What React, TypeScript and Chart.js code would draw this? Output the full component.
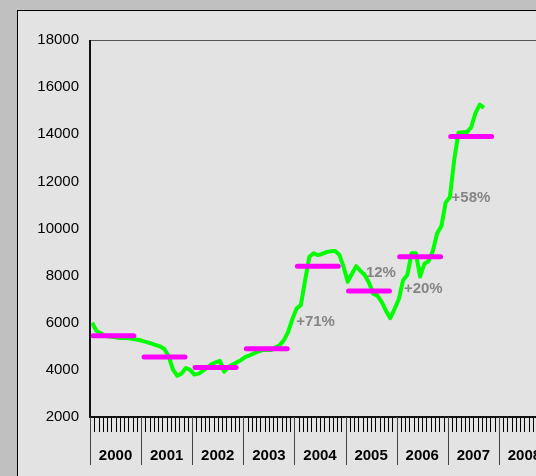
import React, { useEffect, useRef } from "react";
import { Chart, registerables } from "chart.js";

Chart.register(...registerables);

const years = ["2000", "2001", "2002", "2003", "2004", "2005", "2006", "2007", "2008"];
const monthlyPrice = [
  6000, 5660, 5550, 5450, 5420, 5400, 5360, 5350, 5350, 5330, 5300, 5270,
  5220, 5170, 5110, 5050, 4990, 4880, 4550, 4000, 3750, 3850, 4080, 4000,
  3800, 3840, 3960, 4100, 4240, 4320, 4380, 3920, 4120, 4230, 4320, 4420,
  4550, 4620, 4700, 4780, 4840, 4840, 4840, 4950, 5050, 5250, 5600, 6150,
  6600, 6750, 7800, 8800, 8950, 8870, 8920, 9000, 9030, 9050, 8900, 8400,
  7740, 8080, 8400, 8200, 8030, 7700, 7230, 7140, 6880, 6500, 6190, 6580,
  7000, 7800, 8030, 8950, 8950, 7960, 8500, 8620, 9050, 9800, 10100, 11100,
  11340, 12900, 14060, 14090, 14090, 14300, 14900, 15260, 15120,
];
const yearlyAverage = [5450, 4550, 4100, 4900, 8400, 7350, 8800, 13900];
const changeLabels = ["+71%", "-12%", "+20%", "+58%"];
const changeLabelMonth = [48.4, 63.6, 73.7, 84.9];
const changeLabelValue = [6030, 8115, 7455, 11306];
const yMin = 2000;
const yMax = 18000;
const yStep = 2000;

const FONT = "'Liberation Sans', Arial, sans-serif";

export default function App() {
  const ref = useRef<HTMLCanvasElement | null>(null);

  useEffect(() => {
    const canvas = ref.current;
    if (!canvas) return;

    const lineData = monthlyPrice.map((v, i) => ({ x: i + 0.5, y: v }));
    const avgData: { x: number; y: number | null }[] = [];
    yearlyAverage.forEach((v, i) => {
      avgData.push({ x: i * 12 + 0.7, y: v });
      avgData.push({ x: i * 12 + 10.3, y: v });
      avgData.push({ x: i * 12 + 11, y: null });
    });

    const annotations = {
      id: "annotations",
      beforeDatasetsDraw(chart: any) {
        const { ctx, scales } = chart;
        ctx.save();
        ctx.font = `bold 15px ${FONT}`;
        ctx.fillStyle = "#858585";
        ctx.textAlign = "left";
        ctx.textBaseline = "middle";
        changeLabels.forEach((t, i) => {
          ctx.fillText(
            t,
            scales.x.getPixelForValue(changeLabelMonth[i]),
            scales.y.getPixelForValue(changeLabelValue[i])
          );
        });
        ctx.restore();
      },
      afterDraw(chart: any) {
        const { ctx, chartArea, scales } = chart;
        const xs = scales.x;
        ctx.save();
        ctx.strokeStyle = "#555";
        ctx.lineWidth = 1;
        ctx.strokeRect(chartArea.left, chartArea.top + 0.5, chartArea.right - chartArea.left, chartArea.bottom - chartArea.top);
        ctx.strokeStyle = "#111";
        ctx.lineWidth = 2;
        ctx.beginPath();
        ctx.moveTo(chartArea.left, chartArea.top);
        ctx.lineTo(chartArea.left, chartArea.bottom);
        ctx.lineTo(chartArea.right, chartArea.bottom);
        ctx.stroke();
        const total = years.length * 12;
        for (let m = 0; m <= total; m++) {
          const px = Math.round(xs.getPixelForValue(m)) + 0.5;
          ctx.beginPath();
          if (m % 12 === 0) {
            ctx.strokeStyle = "#444";
            ctx.lineWidth = 1;
            ctx.moveTo(px, chartArea.bottom);
            ctx.lineTo(px, chartArea.bottom + 48);
          } else {
            ctx.strokeStyle = "#000";
            ctx.lineWidth = 1;
            ctx.moveTo(px, chartArea.bottom);
            ctx.lineTo(px, chartArea.bottom + 15);
          }
          ctx.stroke();
        }
        ctx.font = `bold 15px ${FONT}`;
        ctx.fillStyle = "#000";
        ctx.textAlign = "center";
        ctx.textBaseline = "middle";
        years.forEach((y, i) => {
          ctx.fillText(y, xs.getPixelForValue(i * 12 + 6), chartArea.bottom + 39);
        });
        ctx.restore();
      },
    };

    const chart = new Chart(canvas, {
      type: "line",
      data: {
        datasets: [
          {
            data: avgData as any,
            borderColor: "#ff00ff",
            borderWidth: 5,
            borderCapStyle: "round",
            pointRadius: 0,
            spanGaps: false,
            tension: 0,
          },
          {
            data: lineData,
            borderColor: "#00ff00",
            borderWidth: 4,
            borderJoinStyle: "round",
            pointRadius: 0,
            tension: 0,
          },
        ],
      },
      options: {
        responsive: false,
        animation: false,
        devicePixelRatio: 1,
        layout: { padding: { top: 29, left: 0, right: 68, bottom: 24 } },
        plugins: { legend: { display: false }, tooltip: { enabled: false } },
        scales: {
          x: {
            type: "linear",
            min: 0,
            max: years.length * 12,
            grid: { display: false },
            border: { display: false },
            ticks: { display: false },
            afterFit: (s: any) => {
              s.height = 60;
            },
          },
          y: {
            min: yMin,
            max: yMax,
            grid: { display: false, drawTicks: false },
            border: { display: false },
            ticks: {
              stepSize: yStep,
              color: "#000",
              padding: 11,
              font: { family: FONT, size: 15 },
              callback: (v: any) => String(v),
            },
            afterFit: (s: any) => {
              s.width = 72;
            },
          },
        },
      },
      plugins: [annotations],
    });
    return () => chart.destroy();
  }, []);

  return (
    <div
      style={{
        position: "fixed",
        left: 0,
        top: 0,
        width: "100vw",
        height: "100vh",
        background: "#c0c0c0",
        overflow: "hidden",
      }}
    >
      <div
        style={{
          position: "absolute",
          left: 17,
          top: 10,
          width: 600,
          height: 500,
          border: "1px solid #000",
          background: "#e3e3e3",
        }}
      >
        <canvas ref={ref} width={600} height={490} style={{ display: "block", width: 600, height: 490 }} />
      </div>
    </div>
  );
}
